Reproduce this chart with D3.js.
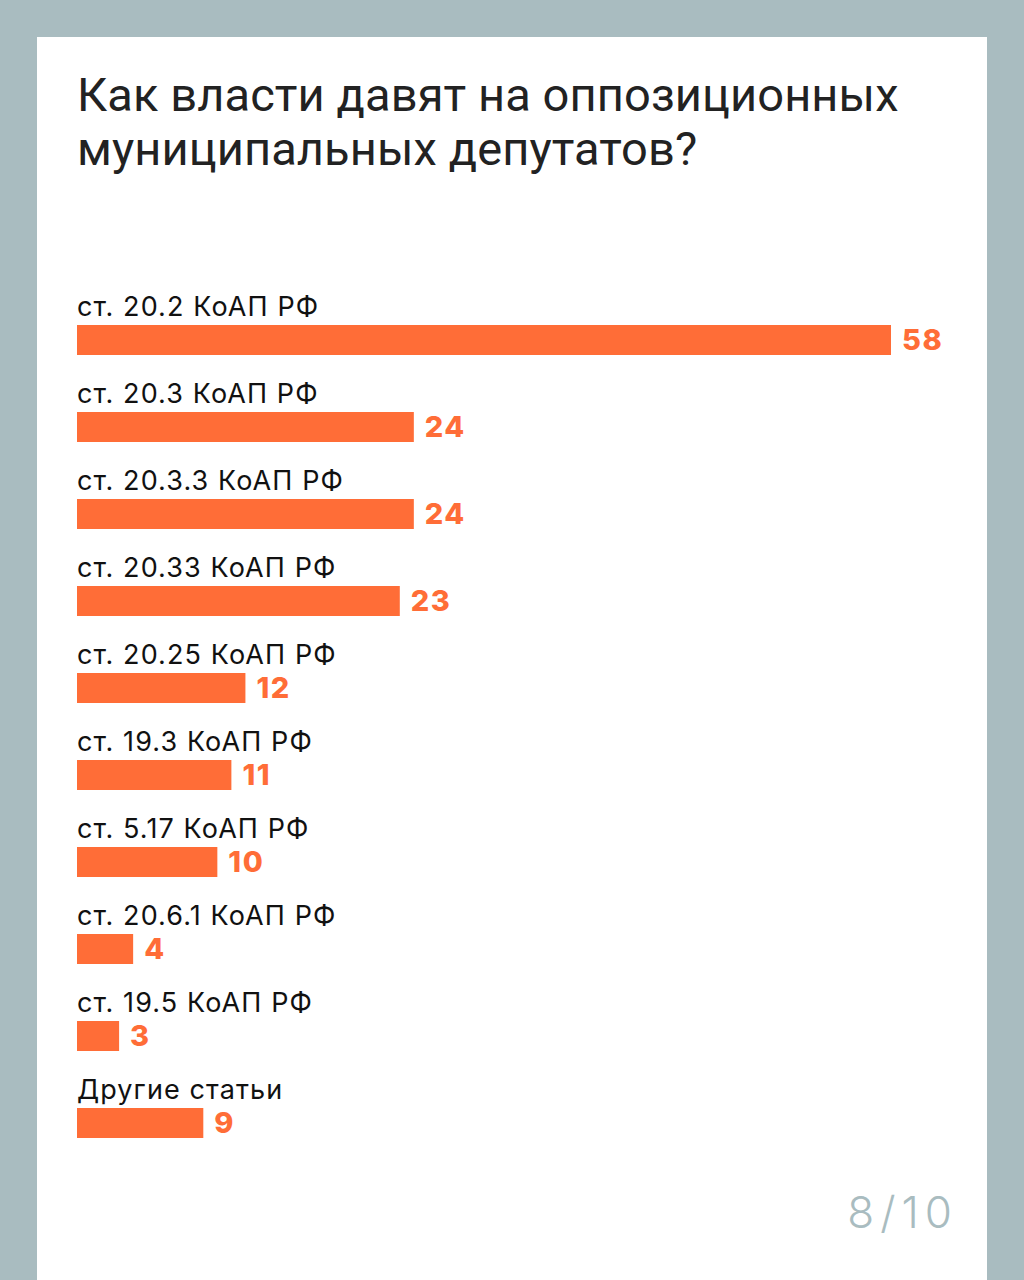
<!DOCTYPE html>
<html>
<head>
<meta charset="utf-8">
<script src="https://cdn.jsdelivr.net/npm/d3@7"></script>
<style>
  html, body { margin: 0; padding: 0; background: #a9bcc0; }
  svg { display: block; }
</style>
</head>
<body>
<svg id="chart" width="1024" height="1280"></svg>
<script>
var categories = [
  "ст. 20.2 КоАП РФ",
  "ст. 20.3 КоАП РФ",
  "ст. 20.3.3 КоАП РФ",
  "ст. 20.33 КоАП РФ",
  "ст. 20.25 КоАП РФ",
  "ст. 19.3 КоАП РФ",
  "ст. 5.17 КоАП РФ",
  "ст. 20.6.1 КоАП РФ",
  "ст. 19.5 КоАП РФ",
  "Другие статьи"
]
var values = [58, 24, 24, 23, 12, 11, 10, 4, 3, 9]
var titleLines = ["Как власти давят на оппозиционных", "муниципальных депутатов?"]
var pageLabel = "8/10"

var orange = "#ff6d37"
var svg = d3.select("svg#chart")

// white card
svg.append("rect")
    .attr("x", 37).attr("y", 37)
    .attr("width", 950).attr("height", 1260)
    .attr("fill", "#fff")

svg.append("g").selectAll("text")
    .data(titleLines)
    .enter().append("text")
    .attr("x", 77)
    .attr("y", (d, i) => 111 + i * 54)
    .attr("font-family", "Roboto, sans-serif")
    .attr("font-size", 47)
    .attr("letter-spacing", 0.1)
    .attr("fill", "#222")
    .text(d => d)

var x = d3.scaleLinear()
    .domain([0, 58])
    .range([77, 891])

var y = d3.scaleBand()
    .domain(categories)
    .range([293, 293 + 87 * categories.length])

var rows = svg.append("g").selectAll("g")
    .data(categories)
    .enter().append("g")
    .attr("transform", d => "translate(0," + y(d) + ")")

rows.append("text")
    .attr("x", 77)
    .attr("y", 23)
    .attr("font-family", "Inter, sans-serif")
    .attr("font-size", 27)
    .attr("letter-spacing", 1.1)
    .attr("fill", "#111")
    .text(d => d)

rows.append("rect")
    .attr("x", x(0))
    .attr("y", 32)
    .attr("height", 30)
    .attr("width", (d, i) => x(values[i]) - x(0))
    .attr("fill", orange)

rows.append("text")
    .attr("x", (d, i) => x(values[i]) + 11)
    .attr("y", 47)
    .attr("dy", "0.36em")
    .attr("font-family", "Inter, sans-serif")
    .attr("font-weight", 800)
    .attr("font-size", 29)
    .attr("letter-spacing", 1.5)
    .attr("fill", orange)
    .text((d, i) => values[i])

svg.append("text")
    .attr("x", 958)
    .attr("y", 1228)
    .attr("text-anchor", "end")
    .attr("font-family", "Inter, sans-serif")
    .attr("font-weight", 300)
    .attr("font-size", 44)
    .attr("letter-spacing", 6)
    .attr("fill", "#a9bcc0")
    .text(pageLabel)
</script>
</body>
</html>
